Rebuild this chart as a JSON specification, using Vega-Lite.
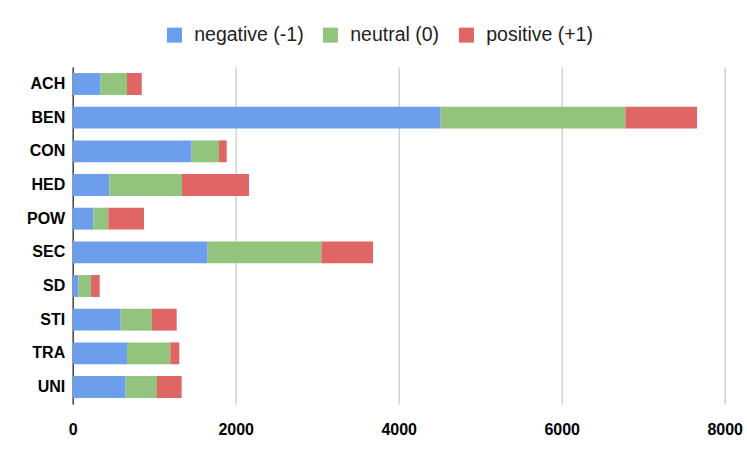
{
  "$schema": "https://vega.github.io/schema/vega-lite/v6.json",
  "autosize": {"type": "none"},
  "width": 652,
  "height": 337,
  "padding": {"left": 72.7, "top": 67, "right": 22.3, "bottom": 58},
  "background": "white",
  "config": {"view": {"stroke": null}, "font": "Liberation Sans"},
  "data": {"values": [
    {"cat": "ACH", "s": "negative (-1)", "v": 343}, {"cat": "ACH", "s": "neutral (0)", "v": 323}, {"cat": "ACH", "s": "positive (+1)", "v": 181},
    {"cat": "BEN", "s": "negative (-1)", "v": 4515}, {"cat": "BEN", "s": "neutral (0)", "v": 2266}, {"cat": "BEN", "s": "positive (+1)", "v": 880},
    {"cat": "CON", "s": "negative (-1)", "v": 1460}, {"cat": "CON", "s": "neutral (0)", "v": 335}, {"cat": "CON", "s": "positive (+1)", "v": 95},
    {"cat": "HED", "s": "negative (-1)", "v": 449}, {"cat": "HED", "s": "neutral (0)", "v": 892}, {"cat": "HED", "s": "positive (+1)", "v": 822},
    {"cat": "POW", "s": "negative (-1)", "v": 253}, {"cat": "POW", "s": "neutral (0)", "v": 184}, {"cat": "POW", "s": "positive (+1)", "v": 438},
    {"cat": "SEC", "s": "negative (-1)", "v": 1656}, {"cat": "SEC", "s": "neutral (0)", "v": 1395}, {"cat": "SEC", "s": "positive (+1)", "v": 634},
    {"cat": "SD", "s": "negative (-1)", "v": 69}, {"cat": "SD", "s": "neutral (0)", "v": 156}, {"cat": "SD", "s": "positive (+1)", "v": 106},
    {"cat": "STI", "s": "negative (-1)", "v": 589}, {"cat": "STI", "s": "neutral (0)", "v": 384}, {"cat": "STI", "s": "positive (+1)", "v": 303},
    {"cat": "TRA", "s": "negative (-1)", "v": 666}, {"cat": "TRA", "s": "neutral (0)", "v": 532}, {"cat": "TRA", "s": "positive (+1)", "v": 110},
    {"cat": "UNI", "s": "negative (-1)", "v": 650}, {"cat": "UNI", "s": "neutral (0)", "v": 384}, {"cat": "UNI", "s": "positive (+1)", "v": 303}
  ]},
  "mark": {"type": "bar", "cornerRadius": 0},
  "encoding": {
    "y": {
      "field": "cat", "type": "nominal", "sort": null,
      "scale": {"paddingInner": 0.35, "paddingOuter": 0.18},
      "axis": {"title": null, "ticks": false, "domain": true, "domainColor": "#333333", "domainWidth": 1.3,
               "labelFontSize": 16, "labelFontWeight": "bold", "labelColor": "#000000", "labelPadding": 8, "grid": false}
    },
    "x": {
      "field": "v", "type": "quantitative", "stack": "zero",
      "scale": {"domain": [0, 8000], "nice": false},
      "axis": {"title": null, "values": [0, 2000, 4000, 6000, 8000], "format": "d", "ticks": false, "domain": false,
               "grid": true, "gridColor": "#cccccc", "gridWidth": 1.3,
               "labelFontSize": 16, "labelFontWeight": "bold", "labelColor": "#000000", "labelPadding": 17, "labelFlush": false}
    },
    "color": {
      "field": "s", "type": "nominal",
      "scale": {"domain": ["negative (-1)", "neutral (0)", "positive (+1)"], "range": ["#6d9eeb", "#93c47d", "#e06666"]},
      "legend": {"title": null, "orient": "none", "direction": "horizontal", "legendX": 92, "legendY": -42,
                 "symbolType": "square", "symbolSize": 225, "symbolStrokeWidth": 0, "labelFontSize": 19.5,
                 "labelColor": "#222222", "labelOffset": 10, "columnPadding": 17, "labelLimit": 300}
    },
    "order": {"field": "s", "type": "nominal"}
  }
}
